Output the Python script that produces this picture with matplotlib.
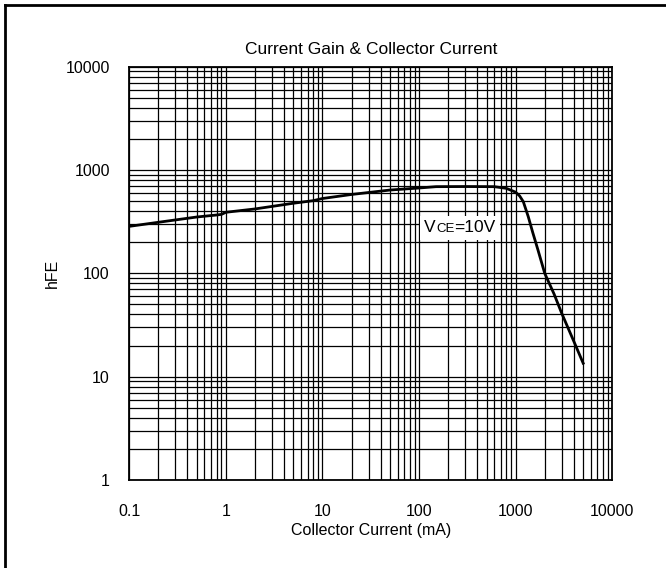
import matplotlib
matplotlib.use('Agg')
import matplotlib.pyplot as plt
from matplotlib.offsetbox import TextArea, HPacker, AnnotationBbox
from matplotlib.lines import Line2D

plt.rcParams['font.family'] = ['Liberation Sans', 'DejaVu Sans']

# data (Ic in mA, hFE)
current_ma = [0.1, 0.2, 0.5, 0.8, 0.9, 1.0, 2, 5, 8, 10, 20, 50, 100, 150,
              300, 600, 800, 1000, 1100, 1200, 1350, 1500, 1700, 2000, 2500,
              3000, 4000, 5000]
hfe = [285, 312, 351, 367, 372, 390, 420, 477, 505, 530, 580, 640, 670, 690,
       692, 690, 665, 610, 561, 494, 354, 250, 169, 100, 63,
       41, 22, 13.5]

x_ticks = [0.1, 1, 10, 100, 1000, 10000]
x_tick_labels = ['0.1', '1', '10', '100', '1000', '10000']
y_ticks = [1, 10, 100, 1000, 10000]
y_tick_labels = ['1', '10', '100', '1000', '10000']

fig = plt.figure(figsize=(6.66, 5.68), dpi=100)
ax = fig.add_axes([0.1941, 0.1549, 0.7252, 0.7277])

ax.set_xscale('log')
ax.set_yscale('log')
ax.set_xlim(0.1, 10000)
ax.set_ylim(1, 10000)

ax.grid(True, which='both', color='black', linewidth=0.9)
ax.set_axisbelow(True)
ax.plot(current_ma, hfe, color='black', linewidth=2.0, zorder=3)

ax.set_xticks(x_ticks)
ax.set_xticklabels(x_tick_labels)
ax.set_yticks(y_ticks)
ax.set_yticklabels(y_tick_labels)
ax.tick_params(which='both', length=0, labelsize=11.5)
ax.tick_params(axis='x', pad=17)
ax.tick_params(axis='y', pad=14)
for s in ax.spines.values():
    s.set_linewidth(1.3)

ax.set_title('Current Gain & Collector Current', fontsize=12.5, pad=9)
ax.set_xlabel('Collector Current (mA)', fontsize=11.5, labelpad=3)
ax.set_ylabel('hFE', fontsize=11.5, labelpad=4)

# VCE=10V label with small CE
parts = HPacker(children=[TextArea('V', textprops=dict(size=12.5)),
                          TextArea('CE', textprops=dict(size=9.5)),
                          TextArea('=10V', textprops=dict(size=12.5))],
                align='baseline', pad=0, sep=0)
ab = AnnotationBbox(parts, (265, 275), xycoords='data', frameon=True,
                    bboxprops=dict(facecolor='white', edgecolor='none'),
                    pad=0.3, zorder=4)
ax.add_artist(ab)

# frame (top and left visible)
fig.add_artist(Line2D([5 / 666, 1], [1 - 5 / 568, 1 - 5 / 568],
                      transform=fig.transFigure, color='black', linewidth=2))
fig.add_artist(Line2D([5 / 666, 5 / 666], [0, 1 - 5 / 568],
                      transform=fig.transFigure, color='black', linewidth=2))

fig.savefig('out.png', dpi=100)
